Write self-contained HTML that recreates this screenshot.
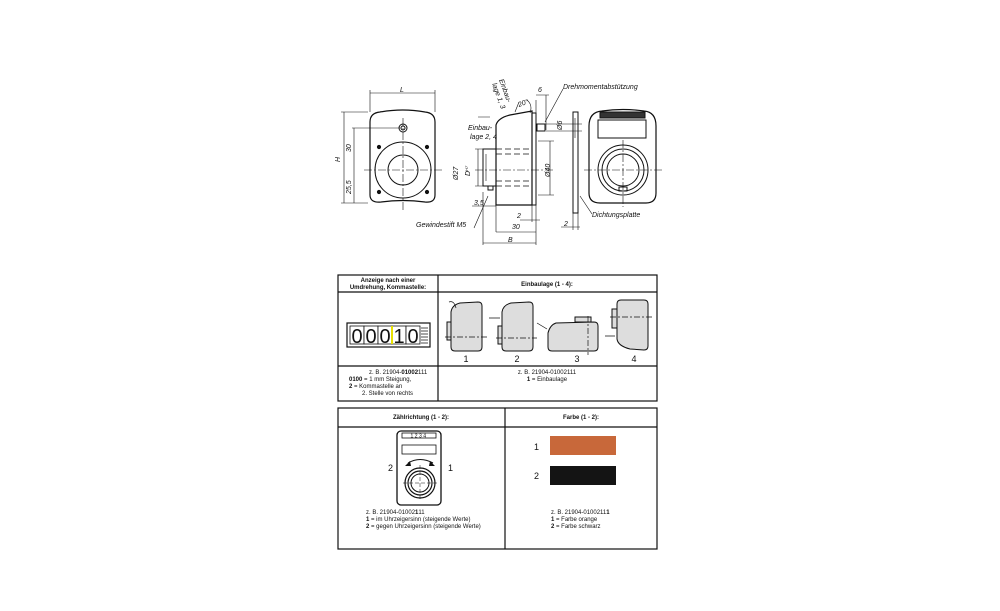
<!DOCTYPE html>
<html><head><meta charset="utf-8"><style>
html,body{margin:0;padding:0;background:#fff}
svg{display:block}
text{font-family:"Liberation Sans",sans-serif;fill:#111}
.i{font-style:italic;font-size:7px}
</style></head><body>
<svg width="1000" height="611" viewBox="0 0 1000 611" xmlns="http://www.w3.org/2000/svg">
<g fill="none" stroke="#111" stroke-width="1">
<path d="M370,122 Q370,113 380,112 Q403,108 425,112 Q435,113 435,122 L435,195 Q435,203 425,202 Q403,199 381,202 Q370,203 370,195 Z" stroke-width="1.2"/>
<circle cx="403" cy="170" r="28"/>
<circle cx="403" cy="170" r="15"/>
<circle cx="403" cy="128" r="4"/><circle cx="403" cy="128" r="2"/>
<circle cx="379" cy="147" r="1.6" fill="#111"/><circle cx="427" cy="147" r="1.6" fill="#111"/>
<circle cx="379" cy="192" r="1.6" fill="#111"/><circle cx="427" cy="192" r="1.6" fill="#111"/>
<path d="M364,170 H442 M403,118 V210" stroke-dasharray="8,2,2,2" stroke-width="0.6"/>
<path d="M370,93 H435 M370,90 V112 M435,90 V112" stroke-width="0.6"/>
<path d="M341,112 H368 M341,203 H368 M344,112 V203 M354,128 V203 M352,128 H400" stroke-width="0.6"/>
<path d="M496,205 L496,125 Q498,118 510,115 L532,111 L532,205 Z" stroke-width="1.2"/>
<rect x="532" y="113" width="4" height="92"/>
<rect x="483" y="149" width="13" height="37"/>
<rect x="488" y="186" width="5" height="4"/>
<rect x="537" y="124" width="8" height="7"/>
<path d="M496,149 H532 M496,186 H532 M496,154 H532 M496,181 H532" stroke-dasharray="6,3" stroke-width="0.7"/>
<path d="M475,170 H555" stroke-dasharray="8,2,2,2" stroke-width="0.6"/>
<path d="M475,149 H483 M475,186 H483 M478,149 V186 M486,154 V181 M538,141 H554 M538,195 H554 M550,141 V195 M546,124 H582 M546,131 H582 M575,118 V138" stroke-width="0.6"/>
<path d="M483,192 V245 M536,100 V245 M496,205 V232 M472,206 H496 M496,232 H536 M483,243 H536 M520,220 H540 M532,205 V222 M536,95 H549 M546,95 V130" stroke-width="0.6"/>
<path d="M515,112 L519,102 M527,100 Q533,105 530,113 M478,117 H490 M545,122 L563,89 M474,228 L488,196 M580,196 L592,214" stroke-width="0.6"/>
<rect x="573" y="112" width="5" height="101" stroke-width="1"/>
<path d="M561,227 H580 M573,213 V230 M578,213 V230" stroke-width="0.6"/>
<path d="M589,126 Q589,112 602,111 Q623,108 644,111 Q656,112 656,126 L656,193 Q656,203 646,203 L600,203 Q589,203 589,193 Z" stroke-width="1.2"/>
<rect x="598" y="120" width="48" height="18"/>
<rect x="600" y="112" width="45" height="6" fill="#333"/>
<circle cx="623" cy="170" r="25"/><circle cx="623" cy="170" r="21"/><circle cx="623" cy="170" r="16"/>
<rect x="619" y="187" width="8" height="4"/>
<path d="M584,170 H662 M623,140 V207" stroke-dasharray="8,2,2,2" stroke-width="0.6"/>
</g>
<g class="i">
<text x="400" y="92">L</text>
<text transform="translate(340,162) rotate(-90)">H</text>
<text transform="translate(351,152) rotate(-90)">30</text>
<text transform="translate(351,194) rotate(-90)">25,5</text>
<text transform="translate(499,80) rotate(70)">Einbau-</text>
<text transform="translate(492,84) rotate(70)">lage 1, 3</text>
<text x="519" y="107" transform="rotate(-20 519 107)">20°</text>
<text x="538" y="92">6</text>
<text x="563" y="89">Drehmomentabstützung</text>
<text x="468" y="130">Einbau-</text>
<text x="470" y="139">lage 2, 4</text>
<text transform="translate(458,180) rotate(-90)">Ø27</text>
<text transform="translate(470,176) rotate(-90)">D<tspan font-size="4" dy="-2">H7</tspan></text>
<text transform="translate(550,177) rotate(-90)">Ø40</text>
<text transform="translate(562,130) rotate(-90)">Ø6</text>
<text x="474" y="205">3,5</text>
<text x="416" y="227">Gewindestift M5</text>
<text x="517" y="218">2</text>
<text x="512" y="229">30</text>
<text x="508" y="242">B</text>
<text x="564" y="226">2</text>
<text x="592" y="217">Dichtungsplatte</text>
</g>
<g fill="none" stroke="#111" stroke-width="1.2">
<rect x="338" y="275" width="319" height="126"/>
<path d="M338,292 H657 M338,366 H657 M438,275 V401"/>
</g>
<g font-size="6" text-anchor="middle">
<text x="388" y="282" font-weight="bold">Anzeige nach einer</text>
<text x="388" y="289" font-weight="bold">Umdrehung, Kommastelle:</text>
<text x="547" y="286" font-weight="bold">Einbaulage (1 - 4):</text>
</g>
<rect x="347" y="323" width="83" height="24" fill="#fff" stroke="#111" stroke-width="1.2"/>
<g fill="#fff" stroke="#111" stroke-width="0.8">
<rect x="350" y="326" width="14" height="18"/><rect x="364" y="326" width="14" height="18"/><rect x="378" y="326" width="14" height="18"/><rect x="392" y="326" width="14" height="18"/><rect x="406" y="326" width="14" height="18"/>
</g>
<path d="M392,326 V344" stroke="#e8e000" stroke-width="2"/>
<g stroke="#111" stroke-width="0.8"><path d="M421,328 H428 M421,331 H428 M421,334 H428 M421,337 H428 M421,340 H428 M421,343 H428"/></g>
<g font-size="20" text-anchor="middle"><text x="357" y="343">0</text><text x="371" y="343">0</text><text x="385" y="343">0</text><text x="399" y="343">1</text><text x="413" y="343">0</text></g>
<g fill="#ddd" stroke="#111" stroke-width="1">
<path d="M451,312 Q452,305 460,303 L478,302 Q482,302 482,306 L482,347 Q482,351 478,351 L455,351 Q451,351 451,347 Z"/>
<rect x="447" y="322" width="4" height="18"/>
<path d="M502,312 Q503,305 511,303 L529,302 Q533,302 533,306 L533,347 Q533,351 529,351 L506,351 Q502,351 502,347 Z"/>
<rect x="498" y="326" width="4" height="18"/>
<path d="M548,333 Q550,325 556,323 L594,322 Q598,322 598,326 L598,347 Q598,351 594,351 L552,351 Q548,351 548,347 Z"/>
<rect x="575" y="317" width="16" height="5"/>
<path d="M617,304 Q617,300 621,300 L644,300 Q648,300 648,304 L648,346 Q648,350 644,350 L630,349 Q618,346 617,339 Z"/>
<rect x="612" y="309" width="5" height="19"/>
</g>
<g stroke="#111" stroke-width="0.7" fill="none">
<path d="M445,337 H487 M496,338 H537 M588,316 V355 M610,317 H652" stroke-dasharray="6,2,2,2"/>
<path d="M449,302 Q454,300 456,308 M489,318 H500 M537,323 L547,329 M605,336 H615"/>
</g>
<g font-size="9" text-anchor="middle"><text x="466" y="362">1</text><text x="517" y="362">2</text><text x="577" y="362">3</text><text x="634" y="362">4</text></g>
<g font-size="6">
<text x="369" y="374">z. B. 21904-<tspan font-weight="bold">01002</tspan>111</text>
<text x="349" y="381"><tspan font-weight="bold">0100</tspan> = 1 mm Steigung,</text>
<text x="349" y="388"><tspan font-weight="bold">2</tspan> = Kommastelle an</text>
<text x="362" y="395">2. Stelle von rechts</text>
<text x="547" y="374" text-anchor="middle">z. B. 21904-01002111</text>
<text x="547" y="381" text-anchor="middle"><tspan font-weight="bold">1</tspan> = Einbaulage</text>
</g>
<g fill="none" stroke="#111" stroke-width="1.2">
<rect x="338" y="408" width="319" height="141"/>
<path d="M338,427 H657 M505,408 V549"/>
</g>
<g font-size="6" font-weight="bold" text-anchor="middle">
<text x="421" y="419">Zählrichtung (1 - 2):</text>
<text x="581" y="419">Farbe (1 - 2):</text>
</g>
<g fill="none" stroke="#111">
<rect x="397" y="431" width="44" height="74" rx="4" stroke-width="1.3"/>
<rect x="402" y="433" width="34" height="5" stroke-width="0.8"/>
<rect x="402" y="445" width="34" height="9" stroke-width="0.8"/>
<circle cx="420" cy="483" r="15" stroke-width="1.2"/><circle cx="420" cy="483" r="12" stroke-width="1.2"/><circle cx="420" cy="483" r="9"/>
<path d="M403,483 H437 M420,465 V500" stroke-dasharray="4,2" stroke-width="0.5"/>
<path d="M408,463 Q420,456 433,463" stroke-width="1"/>
</g>
<text x="419" y="437.5" font-size="5" text-anchor="middle" letter-spacing="1.5">1234</text>
<path d="M405,466 L410,461 L411,466 Z M435,466 L430,461 L429,466 Z" fill="#111"/>
<g font-size="9"><text x="388" y="471">2</text><text x="448" y="471">1</text><text x="534" y="450">1</text><text x="534" y="479">2</text></g>
<rect x="550" y="436" width="66" height="19" fill="#c8683a"/>
<rect x="550" y="466" width="66" height="19" fill="#141414"/>
<g font-size="6">
<text x="366" y="514">z. B.  21904-01002<tspan font-weight="bold">1</tspan>11</text>
<text x="366" y="521"><tspan font-weight="bold">1</tspan> = im Uhrzeigersinn (steigende Werte)</text>
<text x="366" y="528"><tspan font-weight="bold">2</tspan> = gegen Uhrzeigersinn (steigende Werte)</text>
<text x="551" y="514">z. B.  21904-0100211<tspan font-weight="bold">1</tspan></text>
<text x="551" y="521"><tspan font-weight="bold">1</tspan> = Farbe orange</text>
<text x="551" y="528"><tspan font-weight="bold">2</tspan> = Farbe schwarz</text>
</g>
</svg>
</body></html>
